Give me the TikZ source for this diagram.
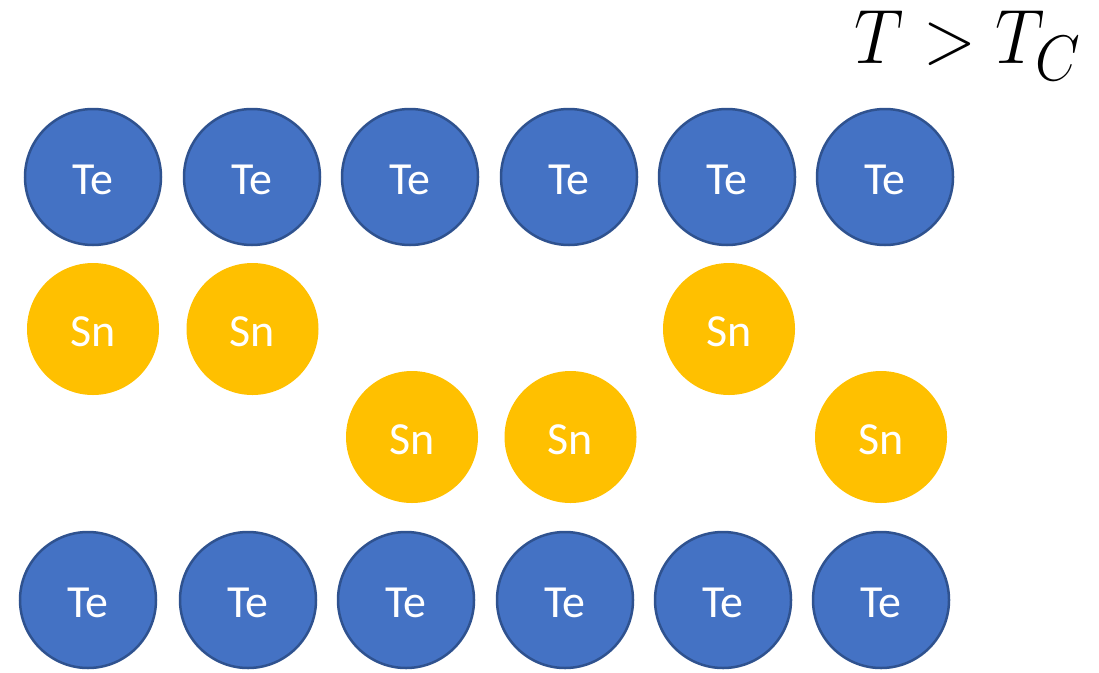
\documentclass[tikz,border=0pt]{standalone}
\usepackage{fontspec}
\setsansfont{Carlito}
\definecolor{teblue}{HTML}{4472C4}
\definecolor{teedge}{HTML}{2F528F}
\definecolor{snyellow}{HTML}{FFC000}
\begin{document}
\begin{tikzpicture}[x=1pt,y=-1pt,
  atomfont/.style={text=white, font=\sffamily\fontsize{46}{50}\selectfont, text height=34pt, text depth=0pt},
  te/.style={circle, fill=teblue, draw=teedge, line width=2.5pt, minimum size=136pt, inner sep=0pt, atomfont},
  sn/.style={circle, fill=snyellow, minimum size=132pt, inner sep=0pt, atomfont}]
\useasboundingbox (0,0) rectangle (1099,672);
% top Te row
\node[te] (t1) at (93,177) {Te};
\node[te] (t2) at (252,177) {Te};
\node[te] (t3) at (410,177) {Te};
\node[te] (t4) at (569,177) {Te};
\node[te] (t5) at (727,177) {Te};
\node[te] (t6) at (885,177) {Te};
% Sn upper
\node[sn] (s1) at (93,329) {Sn};
\node[sn] (s2) at (252.5,329) {Sn};
\node[sn] (s5) at (729,329) {Sn};
% Sn lower
\node[sn] (s3) at (412,437) {Sn};
\node[sn] (s4) at (570.5,437) {Sn};
\node[sn] (s6) at (881,437) {Sn};
% bottom Te row
\node[te] (b1) at (88,600) {Te};
\node[te] (b2) at (248,600) {Te};
\node[te] (b3) at (406,600) {Te};
\node[te] (b4) at (565,600) {Te};
\node[te] (b5) at (723,600) {Te};
\node[te] (b6) at (881,600) {Te};
% title
\node[anchor=base east, inner sep=0pt, scale=3.1, xscale=0.9, font=\fontsize{24.88}{28}\selectfont] (title) at (1082,63) {$T > T_C$};
\end{tikzpicture}
\end{document}
